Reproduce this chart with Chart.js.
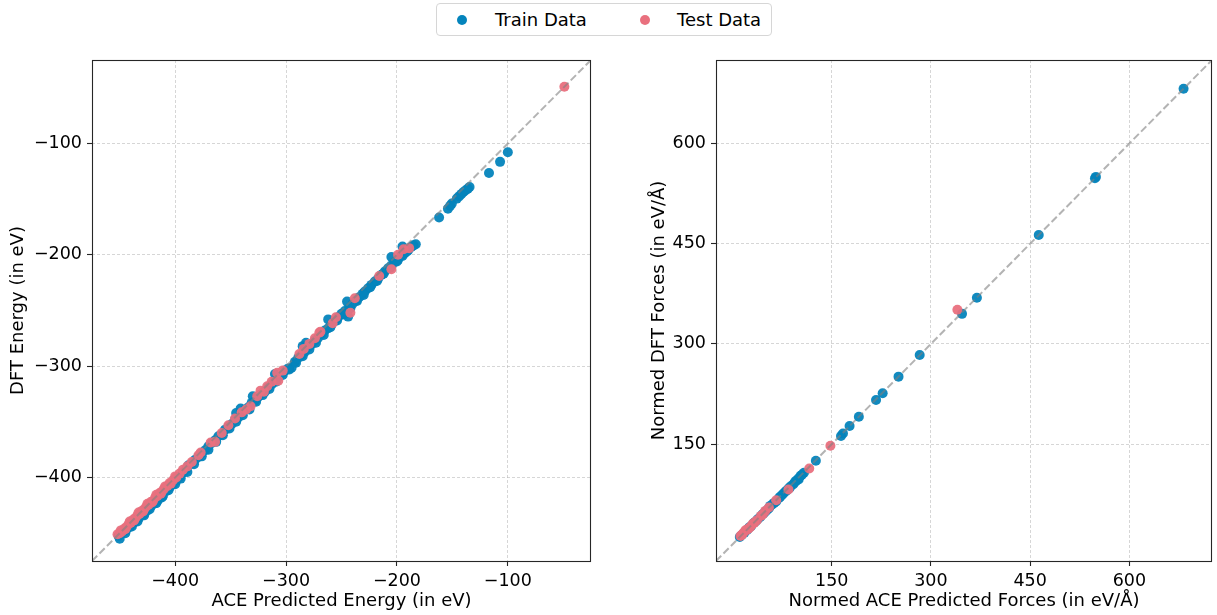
<!DOCTYPE html>
<html><head><meta charset="utf-8">
<script src="https://cdn.jsdelivr.net/npm/chart.js@4.4.1/dist/chart.umd.min.js"></script>
<style>
html,body{margin:0;padding:0;background:#fff;}
body{width:1217px;height:615px;overflow:hidden;position:relative;font-family:'DejaVu Sans',sans-serif;}
canvas{position:absolute;top:0;}
#c1{left:0;}
#c2{left:608px;}
#legend{position:absolute;left:436px;top:3px;width:336px;height:33px;border:1px solid #d6d6d6;border-radius:4px;box-sizing:border-box;background:#fff;}
.dot{position:absolute;top:11px;width:10px;height:10px;border-radius:50%;}
.lab{position:absolute;top:4px;font-size:18px;line-height:24px;color:#000;white-space:nowrap;}
</style>
</head><body>
<canvas id="c1" width="608" height="615"></canvas>
<canvas id="c2" width="609" height="615"></canvas>
<div id="legend">
  <div class="dot" style="left:20px;background:rgb(4,132,188);"></div>
  <div class="lab" style="left:58px;">Train Data</div>
  <div class="dot" style="left:203px;background:rgb(233,112,126);"></div>
  <div class="lab" style="left:240px;">Test Data</div>
</div>
<script>
// ---------- Data: Energy (left panel) ----------
const energyTrainPred = [-451,-449,-446,-444,-441,-438,-436,-433,-430,-428,-425,-422,-419,-416,-413,-411,-408,-405,-402,-399,-396,-393,-390,-388,-385,-382,-379,-376,-373,-370,-367,-364,-361,-358,-355,-352,-349,-346,-343,-341,-340,-337,-334,-331,-330,-328,-325,-322,-319,-316,-313,-310,-307,-304,-301,-298,-295,-292,-289,-286,-283,-282,-280,-277,-274,-271,-268,-265,-262,-262,-259,-256,-253,-250,-247,-244,-243,-240,-237,-234,-231,-229,-226,-223,-220,-217,-214,-211,-208,-205,-202,-199,-196,-193,-190,-187,-183,-162,-154,-152,-150.5,-146,-144,-142,-140,-138,-136,-134.5,-117,-107,-100,
  -450,-445,-439,-434,-428,-423,-417,-412,-406,-400,-395,-389,-383,-376,-370,-363,-357,-351,-345,-339,-333,-327,-321,-315,-309,-303,-297,-291,-285,-279,-273,-266,-260,-254,-248,-242,-236,-230,-224,-218,-212,-206,-200,-195,-191,-185,
  -345,-310,-285,-245,-205,-195];
const energyTrainDFT  = [-452.5,-451,-448.5,-447,-444.5,-441,-439.5,-437,-434,-432.5,-429.5,-426,-423.5,-421,-418,-416.5,-412,-409,-406,-403,-399.5,-396,-392.5,-389,-387.5,-384,-381.5,-378,-375.5,-372,-369,-366.5,-363,-361,-357,-354.5,-352,-348,-346,-338,-342.5,-339,-337,-333,-327,-331,-327.5,-325,-323,-319,-316.5,-313,-310,-306.5,-304,-302,-301.5,-296,-292.5,-290,-287,-279,-283,-280.5,-277,-274.5,-271,-268,-266,-258,-262.5,-259.5,-256,-253,-250.5,-255.5,-248,-244,-241,-238,-235,-233,-230,-227,-224,-221.5,-218,-215,-212,-209.5,-206.5,-204.5,-200.5,-198.5,-196,-193,-190.5,-166.5,-158.5,-156,-154,-149.5,-147.5,-145.5,-143.5,-142,-140.5,-139,-126.5,-116.5,-107.8,
  -455,-450,-444,-439.5,-434,-428.5,-423,-418,-411.5,-406,-401,-395,-388,-381,-375,-368,-362,-356,-350,-344,-339,-332,-326,-320.5,-314,-308,-303,-297,-291,-285,-279,-272,-265,-259,-253.5,-248,-241.5,-236,-229,-223.5,-217,-211.5,-206,-201,-197,-191.5,
  -342,-307,-282,-242,-202,-192.5];
const energyTestPred = [-452,-450,-448,-446,-444,-442,-440,-438,-436,-434,-432,-430,-428,-426,-424,-422,-420,-418,-416,-414,-412,-410,-407,-405,-402,-399,-396,-393,-389,-385,-379,-377,-368,-364,-358,-352,-346,-340,-336,-332,-326,-320,-317,-308,-307,-303,-288,-279,-270,-269,-258,-255,-242,-238,-216,-205,-199,-194,-189,-49,
  -449,-445,-441,-437,-433,-429,-425,-421,-417,-413,-409,-404,-400,-323,-313,-284,-274];
const energyTestDFT  = [-451,-450,-448.5,-446,-444.5,-442,-440.5,-438,-436.5,-434,-432.5,-430,-428.5,-426,-424.5,-422,-421,-418,-416.5,-414,-412.5,-410,-407.5,-405,-402.5,-400,-396.5,-393,-390,-386,-380,-377.5,-368.5,-368,-360,-353,-347,-341.5,-339,-336,-327,-323,-318,-306,-313,-304,-289,-280,-270,-269,-261.5,-256,-252,-239,-219,-213,-200,-195,-194,-49,
  -447.5,-446.5,-439.5,-438.5,-431.5,-430.5,-423.5,-422.5,-415.5,-414.5,-408,-405.5,-399,-322,-314,-284.5,-275];
const energyRange = [-475, -25];
const energyTicks = [-400, -300, -200, -100];

// ---------- Data: Forces (right panel) ----------
const forceTrainPred = [682,549.5,548,463,369.5,347,283,251,227,217,191,177,167,164,126,108,105,103,99.5,96,92,88,85,80,77,74.5,70,63,60,57,53,47,45,42,38,35,32,28,25,22,18,14,11,
  100,94,86,82,72,66,55,50];
const forceTrainDFT  = [682,550,548,463,369,345,283.5,251,226,216,191,177,166,162,125,107,104,102.5,98.5,95,90,87,84,79,76,73.5,69,62,59.5,57.5,52,46,44.5,41,37.5,34,32,27,25,21.5,17.5,14,11,
  97,93,84,80.5,71,64,54,49];
const forceTestPred = [340,148,116,84.5,66,49.5,46,43,27,24,21,19.5,16,14,12,30,33,37,55];
const forceTestDFT  = [351,147.5,113.5,82,66,50,45,42.5,26,23.5,21,21,16.5,14,12.5,30,32.5,36,55];
const forceRange = [-25, 725];
const forceTicks = [150, 300, 450, 600];

// ---------- Styling ----------
const TRAIN_COLOR = 'rgba(4,132,188,0.95)';
const TEST_COLOR = 'rgba(233,112,126,0.95)';
Chart.defaults.font.family = "'DejaVu Sans', sans-serif";
Chart.defaults.font.size = 17.5;
Chart.defaults.color = '#000';

const toPts = (xs, ys) => xs.map((x, i) => ({x: x, y: ys[i]}));
const fmt = v => v < 0 ? '\u2212' + Math.abs(v) : String(v);

const framePlugin = {
  id: 'frame',
  afterDraw(chart) {
    const a = chart.chartArea, ctx = chart.ctx;
    ctx.save();
    ctx.strokeStyle = '#262626';
    ctx.lineWidth = 1.1;
    ctx.strokeRect(Math.round(a.left) + 0.5, Math.round(a.top) + 0.5, Math.round(a.right - a.left) - 1, Math.round(a.bottom - a.top));
    ctx.restore();
  }
};

function axis(range, ticks, title, titlePad, fitSize, isX) {
  return {
    type: 'linear',
    min: range[0], max: range[1],
    afterBuildTicks: s => { s.ticks = ticks.map(v => ({value: v})); },
    afterFit: s => { if (isX) s.height = fitSize; else s.width = fitSize; },
    grid: {
      color: 'rgba(176,176,176,0.65)', lineWidth: 0.8,
      drawTicks: true, tickLength: 5, tickColor: '#262626', tickWidth: 1.1, tickBorderDash: []
    },
    border: { display: false, dash: [3, 2] },
    ticks: { padding: 5, callback: v => fmt(v), font: {size: 17.5}, color: '#000', maxRotation: 0, autoSkip: false },
    title: { display: true, text: title, font: {size: 18}, color: '#000', padding: titlePad }
  };
}

function makeChart(id, trainX, trainY, testX, testY, range, ticks, xTitle, yTitle, yAxisWidth, yTitlePad, padRight) {
  return new Chart(document.getElementById(id), {
    type: 'scatter',
    data: {
      datasets: [
        { type: 'line', data: [{x: range[0], y: range[0]}, {x: range[1], y: range[1]}],
          borderColor: 'rgba(128,128,128,0.6)', borderWidth: 2, borderDash: [7.4, 3.2],
          pointRadius: 0, fill: false, order: 0 },
        { label: 'Test Data', data: toPts(testX, testY), backgroundColor: TEST_COLOR,
          borderWidth: 0, pointRadius: 5, order: 1 },
        { label: 'Train Data', data: toPts(trainX, trainY), backgroundColor: TRAIN_COLOR,
          borderWidth: 0, pointRadius: 5, order: 2 }
      ]
    },
    options: {
      responsive: false, animation: false, devicePixelRatio: 1,
      layout: { padding: { top: 60, right: padRight, bottom: 0, left: 0 } },
      plugins: { legend: { display: false }, tooltip: { enabled: false } },
      scales: {
        x: axis(range, ticks, xTitle, {top: 0, bottom: 3}, 54, true),
        y: axis(range, ticks, yTitle, {top: yTitlePad, bottom: 0}, yAxisWidth, false)
      }
    },
    plugins: [framePlugin]
  });
}

makeChart('c1', energyTrainPred, energyTrainDFT, energyTestPred, energyTestDFT, energyRange, energyTicks,
  'ACE Predicted Energy (in eV)', 'DFT Energy (in eV)', 92, 8, 17);
makeChart('c2', forceTrainPred, forceTrainDFT, forceTestPred, forceTestDFT, forceRange, forceTicks,
  'Normed ACE Predicted Forces (in eV/\u00C5)', 'Normed DFT Forces (in eV/\u00C5)', 108, 41, 2);
</script>
</body></html>
